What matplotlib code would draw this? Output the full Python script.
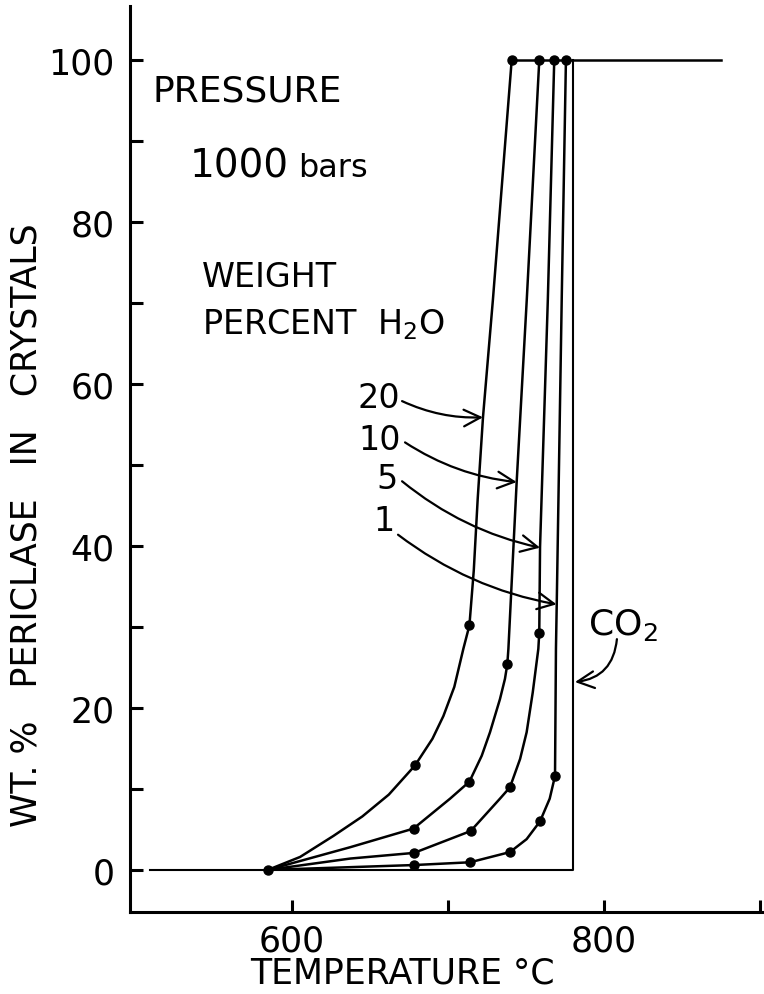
import matplotlib
matplotlib.use("Agg")
import matplotlib.pyplot as plt
from matplotlib.ticker import FixedLocator

plt.rcParams['font.family'] = ['DejaVu Sans']
plt.rcParams['mathtext.fontset'] = 'dejavusans'

# traced curve vertices, temperature (C) vs wt.% periclase
t_20 = [584.4, 605.1, 626.5, 645.0, 662.0, 678.8, 690.0, 697.0, 704.0, 709.8, 713.7, 716.5, 719.0, 722.4, 728.8, 740.8]
p_20 = [0.0, 1.6, 4.2, 6.6, 9.3, 12.9, 16.2, 19.0, 22.6, 27.3, 30.2, 37.0, 45.8, 55.9, 70.5, 100.0]
t_10 = [584.4, 637.2, 677.8, 701.3, 713.7, 721.6, 726.9, 733.3, 736.5, 738.0, 738.7, 744.0, 750.5, 758.5]
p_10 = [0.0, 2.8, 5.1, 8.8, 10.9, 14.1, 17.0, 21.1, 23.6, 25.4, 27.3, 47.9, 70.5, 100.0]
t_5 = [584.4, 637.2, 678.2, 714.5, 733.3, 739.7, 746.2, 750.4, 754.3, 757.9, 758.5, 759.0, 764.0, 768.1]
p_5 = [0.0, 1.4, 2.1, 4.8, 8.8, 10.2, 13.7, 17.0, 21.9, 27.3, 29.3, 39.9, 70.5, 100.0]
t_1 = [584.4, 678.2, 714.1, 739.7, 750.4, 759.0, 765.2, 768.6, 769.2, 769.7, 772.9, 775.6]
p_1 = [0.0, 0.6, 0.94, 2.2, 3.8, 6.0, 8.8, 11.6, 27.3, 32.8, 70.5, 100.0]

# measured points (dots)
dots_20_t = [584.4, 678.8, 713.7, 740.8]
dots_20_p = [0.0, 12.9, 30.2, 100.0]
dots_10_t = [678.2, 713.7, 738.0, 758.5]
dots_10_p = [5.1, 10.9, 25.4, 100.0]
dots_5_t = [678.2, 714.5, 739.7, 758.5, 768.1]
dots_5_p = [2.1, 4.8, 10.2, 29.3, 100.0]
dots_1_t = [678.2, 714.1, 739.7, 759.0, 768.6, 775.6]
dots_1_p = [0.6, 0.94, 2.2, 6.0, 11.6, 100.0]

# pure CO2 curve and the 100 % plateau
co2_t = [509.0, 780.0, 780.0]
co2_p = [0.0, 0.0, 100.0]
top_t = [740.8, 875.0]
top_p = [100.0, 100.0]

curve_labels = ["20", "10", "5", "1"]
label_xy = [(669.5, 58.4), (669.5, 53.2), (667.5, 48.4), (665.5, 43.1)]
arrow_from = [(670.5, 57.9), (672.4, 52.8), (670.5, 48.0), (667.9, 41.4)]
arrow_to = [(722.4, 55.9), (744.0, 47.9), (759.0, 39.8), (769.6, 32.8)]

fig = plt.figure(figsize=(7.64, 9.95), dpi=100)
ax = fig.add_axes([130 / 764, 82 / 995, 633 / 764, 906 / 995])

lw = 1.8
for t, p in [(t_20, p_20), (t_10, p_10), (t_5, p_5), (t_1, p_1)]:
    ax.plot(t, p, color='black', lw=lw, solid_joinstyle='round')
ax.plot(co2_t, co2_p, color='black', lw=1.5)
ax.plot(top_t, top_p, color='black', lw=1.8)

for t, p in [(dots_20_t, dots_20_p), (dots_10_t, dots_10_p),
             (dots_5_t, dots_5_p), (dots_1_t, dots_1_p)]:
    ax.plot(t, p, 'o', color='black', ms=6.5, zorder=5)

ax.set_xlim(496, 902)
ax.set_ylim(-5.2, 106.7)

for s in ['top', 'right']:
    ax.spines[s].set_visible(False)
for s in ['left', 'bottom']:
    ax.spines[s].set_linewidth(2.2)

ax.xaxis.set_major_locator(FixedLocator([600, 700, 800, 900]))
ax.set_xticklabels(["600", "", "800", ""])
ax.yaxis.set_major_locator(FixedLocator([0, 20, 40, 60, 80, 100]))
ax.yaxis.set_minor_locator(FixedLocator([10, 30, 50, 70, 90]))
ax.tick_params(axis='both', which='both', direction='in', length=9, width=2.2,
               labelsize=25)
ax.tick_params(axis='y', which='major', pad=11)
ax.tick_params(axis='x', which='major', pad=8)

ax.set_xlabel("TEMPERATURE °C", fontsize=25)
ax.xaxis.set_label_coords(0.431, -0.048)
ax.set_ylabel("WT. %   PERICLASE   IN   CRYSTALS", fontsize=25)
ax.yaxis.set_label_coords(-0.137, 0.428)

ax.text(510.3, 96.3, "PRESSURE", fontsize=26, va='center', ha='left')
ax.text(534.6, 85.7, "1000", fontsize=28, va='baseline', ha='left')
ax.text(603.8, 85.7, "bars", fontsize=23, va='baseline', ha='left')
ax.text(542.3, 73.3, "WEIGHT", fontsize=24, va='center', ha='left')
ax.text(542.3, 67.5, "PERCENT  H$_2$O", fontsize=24, va='center', ha='left')
ax.text(789.7, 29.1, "CO$_2$", fontsize=26, va='baseline', ha='left')

for lab, xy, a, b in zip(curve_labels, label_xy, arrow_from, arrow_to):
    ax.text(xy[0], xy[1], lab, fontsize=24, ha='right', va='center')
    ax.annotate("", xy=b, xytext=a,
                arrowprops=dict(arrowstyle='->,head_length=0.6,head_width=0.3',
                                connectionstyle='arc3,rad=0.12', color='black',
                                lw=1.6, mutation_scale=20, shrinkA=0, shrinkB=0))

ax.annotate("", xy=(781.4, 23.2), xytext=(808.3, 28.5),
            arrowprops=dict(arrowstyle='->,head_length=0.6,head_width=0.3',
                            connectionstyle='arc3,rad=-0.4', color='black',
                            lw=1.6, mutation_scale=20, shrinkA=0, shrinkB=0))

fig.savefig("out.png", dpi=100)
